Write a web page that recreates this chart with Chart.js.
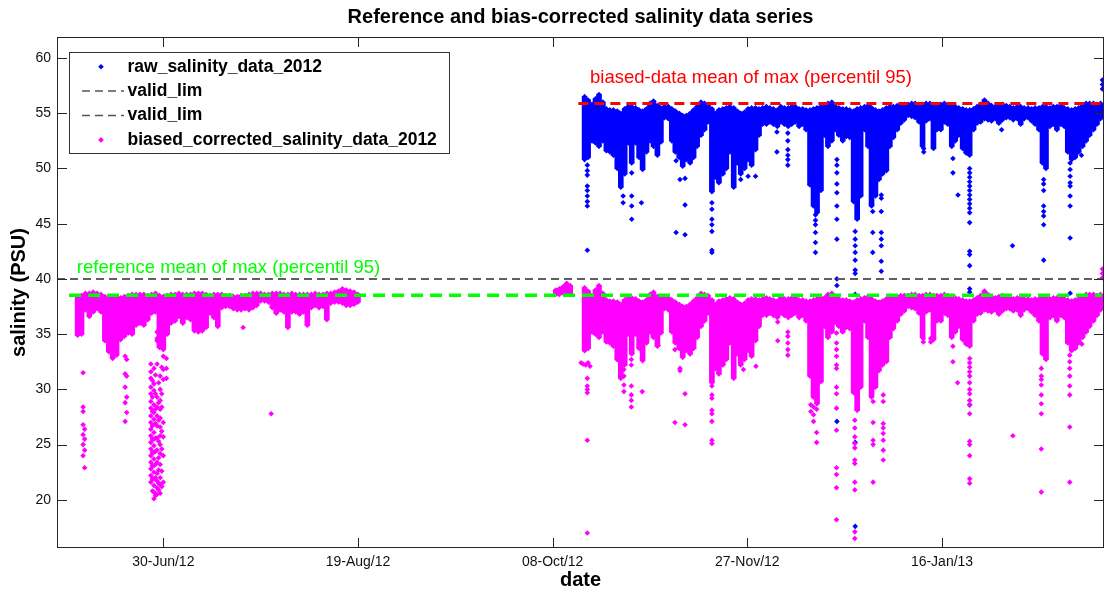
<!DOCTYPE html>
<html>
<head>
<meta charset="utf-8">
<script src="https://cdn.jsdelivr.net/npm/chart.js@4.4.0/dist/chart.umd.min.js"></script>
<style>
  html, body { margin: 0; padding: 0; background: #fff; }
  canvas { display: block; }
</style>
</head>
<body>
<canvas id="grafico" width="1109" height="594"></canvas>
<script>
// x = dias contados a partir de 30-Jun-2012
const xTicks      = [0, 50, 100, 150, 200];
const xTickLabels = ['30-Jun/12', '19-Aug/12', '08-Oct/12', '27-Nov/12', '16-Jan/13'];
const yTicks      = [20, 25, 30, 35, 40, 45, 50, 55, 60];
const xRange      = [-27.3, 241.6];
const yRange      = [15.64, 61.9];

const validLim     = [40, 40];
const refMeanMax   = 38.53;
const refLineDays  = [-24.2, 241];
const biasMeanMax  = 55.89;
const biasLineDays = [106.6, 241.6];
const refLabelAt   = [-22.2, 41.0];
const biasLabelAt  = [109.6, 58.24];

// periodo de referencia (bruto == corrigido): faixa densa por dia
const refDays = [-22, -21, -20, -19, -18, -17, -16, -15, -14, -13,
  -12, -11, -10, -9, -8, -7, -6, -5, -4, -3,
  -2, -1, 0, 1, 2, 3, 4, 5, 6, 7,
  8, 9, 10, 11, 12, 13, 14, 15, 16, 17,
  18, 19, 20, 21, 22, 23, 24, 25, 26, 27,
  28, 29, 30, 31, 32, 33, 34, 35, 36, 37,
  38, 39, 40, 41, 42, 43, 44, 45, 46, 47,
  48, 49, 50, 100.8, 101.7, 102.7, 103.6, 104.5];
const refHi = [38.4, 38.5, 38.7, 38.7, 38.8, 38.7, 38.6, 38.4, 38.3, 38.3,
  38.3, 38.3, 38.4, 38.5, 38.6, 38.6, 38.6, 38.6, 38.5, 38.6,
  38.7, 38.5, 38.4, 38.5, 38.6, 38.6, 38.7, 38.6, 38.6, 38.6,
  38.7, 38.7, 38.7, 38.6, 38.5, 38.6, 38.6, 38.6, 38.5, 38.5,
  38.4, 38.4, 38.5, 38.5, 38.6, 38.7, 38.7, 38.7, 38.6, 38.6,
  38.7, 38.7, 38.7, 38.6, 38.6, 38.7, 38.6, 38.6, 38.6, 38.6,
  38.6, 38.7, 38.6, 38.6, 38.7, 38.7, 38.8, 38.9, 39.1, 39.0,
  38.9, 38.8, 38.6, 39.0, 39.1, 39.3, 39.6, 39.4];
const refLo = [34.9, 35.0, 37.2, 36.6, 37.0, 37.3, 37.0, 34.4, 33.4, 32.8,
  33.1, 34.5, 34.8, 35.1, 35.0, 35.8, 36.0, 35.8, 36.3, 36.9,
  37.0, 33.8, 33.6, 35.0, 36.0, 36.2, 36.6, 36.0, 36.5, 36.3,
  35.3, 35.2, 35.3, 35.6, 36.9, 36.5, 35.7, 37.4, 37.5, 37.5,
  37.3, 37.2, 37.2, 37.3, 37.2, 37.4, 37.6, 38.0, 38.0, 37.9,
  37.4, 36.9, 37.2, 37.0, 35.6, 37.0, 37.0, 36.8, 37.0, 35.8,
  37.4, 37.6, 37.4, 37.5, 36.3, 37.8, 37.9, 37.9, 37.8, 37.6,
  37.6, 37.7, 37.9, 38.6, 38.6, 38.7, 38.8, 38.7];
// pontos soltos do periodo de referencia: [dia, [valores]]
const refOutliers = [
  [-20.6, [31.5, 28.4, 28.0, 26.8, 25.9, 25.0, 24.0]],
  [-20.2, [26.4, 25.5, 24.5, 22.9]],
  [-9.8,  [33.0, 31.4, 30.2, 28.8, 27.1]],
  [-9.4,  [32.7, 31.2, 29.3, 27.9]],
  [-3.2,  [32.3, 31.6, 31.0, 30.2, 29.6, 28.9, 28.3, 27.6, 27.0, 26.4, 25.8, 25.2, 24.6, 24.0, 23.4, 22.8, 22.2, 21.6]],
  [-2.8,  [30.8, 29.3, 28.0, 26.7, 25.5, 24.3, 23.1, 21.9, 20.8]],
  [-2.4,  [31.9, 30.5, 29.9, 28.6, 27.9, 27.3, 26.1, 25.5, 24.9, 24.3, 23.7, 23.1, 22.5, 21.9, 21.3, 20.7, 20.1]],
  [-2.0,  [31.3, 29.6, 28.2, 26.9, 25.6, 24.4, 23.2, 22.0, 20.4]],
  [-1.6,  [35.2, 34.6, 34.4, 32.3, 29.3, 28.4, 27.6, 26.7, 25.6, 24.5, 23.4, 22.4, 21.7, 21.1, 20.5]],
  [-1.2,  [30.6, 28.8, 27.2, 25.3, 23.8, 22.7, 21.5, 20.9]],
  [-0.8,  [35.0, 34.3, 31.2, 30.0, 29.0, 28.2, 27.4, 26.6, 25.8, 25.0, 24.2, 23.2, 22.0, 21.4, 20.6]],
  [-0.4,  [32.0, 29.6, 28.4, 26.2, 24.6, 22.6, 21.2]],
  [0.0,   [33.0, 31.8, 30.9, 27.0, 25.7, 24.0, 21.6]],
  [0.8,   [32.8, 31.9, 31.0]],
  [20.5,  [35.6]],
  [27.7,  [27.8]]
];

// periodo com vies
const biasDays = [108.2, 109.1, 110.1, 111.0, 111.9, 112.9, 113.8, 114.7, 115.6, 116.6,
  117.5, 118.5, 119.4, 120.3, 121.3, 122.2, 123.1, 124.1, 125.0, 125.9,
  126.9, 127.8, 128.7, 129.7, 130.6, 131.5, 132.5, 133.4, 134.3, 135.3,
  136.2, 137.1, 138.1, 139.0, 139.9, 140.9, 141.8, 142.7, 143.7, 144.6,
  145.5, 146.5, 147.4, 148.3, 149.3, 150.2, 151.1, 152.1, 153.0, 153.9,
  154.9, 155.8, 156.7, 157.7, 158.6, 159.5, 160.5, 161.4, 162.3, 163.3,
  164.2, 165.1, 166.1, 167.0, 167.9, 168.9, 169.8, 170.7, 171.7, 172.6,
  173.5, 174.5, 175.4, 176.3, 177.3, 178.2, 179.1, 180.1, 181.0, 181.9,
  182.9, 183.8, 184.7, 185.7, 186.6, 187.5, 188.5, 189.4, 190.3, 191.3,
  192.2, 193.1, 194.1, 195.0, 195.9, 196.9, 197.8, 198.7, 199.7, 200.6,
  201.5, 202.5, 203.4, 204.3, 205.3, 206.2, 207.1, 208.1, 209.0, 209.9,
  210.9, 211.8, 212.7, 213.7, 214.6, 215.5, 216.5, 217.4, 218.3, 219.3,
  220.2, 221.1, 222.1, 223.0, 223.9, 224.9, 225.8, 226.7, 227.7, 228.6,
  229.5, 230.5, 231.4, 232.3, 233.3, 234.2, 235.1, 236.1, 237.0, 237.9,
  238.9, 239.8, 240.7];
const rawHi = [56.5, 56.2, 55.8, 56.3, 56.7, 56.0, 55.4, 55.3, 55.3, 55.2,
  55.0, 55.4, 55.6, 55.6, 55.5, 55.3, 55.2, 55.4, 55.9, 56.1,
  55.7, 55.5, 55.6, 55.6, 55.4, 55.2, 55.0, 54.8, 54.8, 55.0,
  55.3, 55.6, 56.0, 55.9, 55.8, 55.4, 55.0, 55.3, 55.4, 55.5,
  55.6, 55.5, 55.2, 55.0, 55.1, 55.4, 55.5, 55.5, 55.4, 55.5,
  55.6, 55.5, 55.4, 55.3, 55.6, 55.5, 55.5, 55.6, 55.6, 55.4,
  55.4, 55.3, 55.3, 55.4, 55.5, 55.6, 55.6, 55.9, 56.0, 55.6,
  55.5, 55.4, 55.4, 55.3, 55.2, 55.4, 55.5, 55.6, 55.7, 55.5,
  55.3, 55.2, 55.3, 55.5, 55.6, 55.6, 55.7, 55.8, 55.8, 55.8,
  55.9, 55.9, 55.8, 55.8, 55.9, 55.9, 55.8, 55.8, 55.8, 55.9,
  55.8, 55.7, 55.6, 55.5, 55.4, 55.3, 55.3, 55.4, 55.6, 55.8,
  56.2, 55.9, 55.7, 55.6, 55.7, 55.8, 55.7, 55.6, 55.5, 55.6,
  55.6, 55.5, 55.5, 55.4, 55.5, 55.5, 55.6, 55.6, 55.5, 55.6,
  55.6, 55.7, 55.5, 55.4, 55.3, 55.4, 55.5, 55.7, 55.9, 55.9,
  55.9, 55.8, 55.9];
const rawLo = [50.8, 51.0, 52.5, 52.3, 52.0, 52.5, 51.6, 51.5, 51.2, 50.0,
  48.3, 49.5, 52.3, 50.5, 52.3, 51.0, 49.9, 51.5, 52.5, 52.0,
  51.2, 52.4, 54.6, 54.5, 52.5, 51.5, 51.0, 50.2, 50.8, 50.5,
  51.0, 52.0, 53.0, 53.5, 54.2, 47.9, 49.2, 48.7, 49.5, 50.0,
  51.5, 48.3, 50.5, 49.5, 50.0, 50.8, 50.3, 51.7, 53.0, 54.0,
  54.0, 54.2, 54.0, 53.8, 54.2, 54.0, 53.8, 54.0, 54.2, 53.8,
  54.0, 53.5, 48.5, 46.6, 46.0, 48.0, 53.0, 52.0, 52.5, 53.5,
  53.0, 52.5, 52.9, 52.8, 47.0, 45.4, 47.5, 53.5, 52.0, 46.6,
  47.5, 49.0, 49.5, 49.8, 52.0, 52.8, 53.5, 54.1, 54.4, 54.8,
  54.7, 54.6, 54.2, 52.0, 54.3, 54.5, 51.8, 53.5, 53.5, 54.2,
  54.0, 52.0, 52.5, 53.0, 51.8, 51.4, 51.2, 53.5, 54.1, 54.2,
  54.5, 54.4, 54.3, 54.5, 54.1, 54.4, 54.6, 54.6, 54.4, 54.5,
  54.0, 54.5, 54.6, 54.3, 54.0, 53.5, 50.5, 50.0, 53.8, 54.0,
  53.5, 54.0, 53.8, 51.5, 50.8, 51.0, 51.5, 52.0, 52.5, 53.0,
  53.5, 54.0, 54.5];
const corHi = [39.2, 38.9, 38.5, 39.0, 39.4, 38.7, 38.1, 38.0, 38.0, 37.9,
  37.7, 38.1, 38.3, 38.3, 38.2, 38.0, 37.9, 38.1, 38.6, 38.8,
  38.4, 38.2, 38.3, 38.3, 38.1, 37.9, 37.7, 37.5, 37.5, 37.7,
  38.0, 38.3, 38.7, 38.6, 38.5, 38.1, 37.7, 38.0, 38.1, 38.2,
  38.3, 38.2, 37.9, 37.7, 37.8, 38.1, 38.2, 38.2, 38.1, 38.2,
  38.3, 38.2, 38.1, 38.0, 38.3, 38.2, 38.2, 38.3, 38.3, 38.1,
  38.1, 38.0, 38.0, 38.1, 38.2, 38.3, 38.3, 38.6, 38.7, 38.3,
  38.2, 38.1, 38.1, 38.0, 37.9, 38.1, 38.2, 38.3, 38.4, 38.2,
  38.0, 37.9, 38.0, 38.2, 38.3, 38.3, 38.4, 38.5, 38.5, 38.5,
  38.6, 38.6, 38.5, 38.5, 38.6, 38.6, 38.5, 38.5, 38.5, 38.6,
  38.5, 38.4, 38.3, 38.2, 38.1, 38.0, 38.0, 38.1, 38.3, 38.5,
  38.9, 38.6, 38.4, 38.3, 38.4, 38.5, 38.4, 38.3, 38.2, 38.3,
  38.3, 38.2, 38.2, 38.1, 38.2, 38.2, 38.3, 38.3, 38.2, 38.3,
  38.3, 38.4, 38.2, 38.1, 38.0, 38.1, 38.2, 38.4, 38.6, 38.6,
  38.6, 38.5, 38.6];
const corLo = [33.5, 33.7, 35.2, 35.0, 34.7, 35.2, 34.3, 34.2, 33.9, 32.7,
  31.0, 32.2, 35.0, 33.2, 35.0, 33.7, 32.6, 34.2, 35.2, 34.7,
  33.9, 35.1, 37.3, 37.2, 35.2, 34.2, 33.7, 32.9, 33.5, 33.2,
  33.7, 34.7, 35.7, 36.2, 36.9, 30.6, 31.9, 31.4, 32.2, 32.7,
  34.2, 31.0, 33.2, 32.2, 32.7, 33.5, 33.0, 34.4, 35.7, 36.7,
  36.7, 36.9, 36.7, 36.5, 36.9, 36.7, 36.5, 36.7, 36.9, 36.5,
  36.7, 36.2, 31.2, 29.3, 28.7, 30.7, 35.7, 34.7, 35.2, 36.2,
  35.7, 35.2, 35.6, 35.5, 29.7, 28.1, 30.2, 36.2, 34.7, 29.3,
  30.2, 31.7, 32.2, 32.5, 34.7, 35.5, 36.2, 36.8, 37.1, 37.5,
  37.4, 37.3, 36.9, 34.7, 37.0, 37.2, 34.5, 36.2, 36.2, 36.9,
  36.7, 34.7, 35.2, 35.7, 34.5, 34.1, 33.9, 36.2, 36.8, 36.9,
  37.2, 37.1, 37.0, 37.2, 36.8, 37.1, 37.3, 37.3, 37.1, 37.2,
  36.7, 37.2, 37.3, 37.0, 36.7, 36.2, 33.2, 32.7, 36.5, 36.7,
  36.2, 36.7, 36.5, 34.2, 33.5, 33.7, 34.2, 34.7, 35.2, 35.7,
  36.2, 36.7, 37.2];
const rawOutliers = [
  [108.9, [50.3, 49.8, 49.4, 48.4, 48.0, 47.5, 47.0, 46.6, 42.6]],
  [109.0, [34.2]],
  [118.1, [47.5, 46.9]],
  [120.3, [49.6, 47.5, 46.6, 45.4]],
  [122.8, [46.9]],
  [131.7, [50.7, 44.2]],
  [132.7, [49.0]],
  [134.0, [49.1, 46.7, 44.0]],
  [140.9, [46.9, 46.3, 45.4, 44.9, 44.3, 42.6, 42.4]],
  [148.3, [49.0]],
  [150.2, [49.3]],
  [152.1, [49.3]],
  [157.6, [53.3, 51.5]],
  [160.4, [53.2, 52.5, 51.7, 51.2, 50.8, 50.3]],
  [167.5, [45.8, 45.3, 44.9, 44.2, 43.3, 42.4]],
  [173.0, [50.8, 50.3, 49.6, 48.6, 47.8, 46.6, 45.4, 43.6, 40.0, 39.4, 27.1]],
  [177.7, [44.3, 43.6, 43.0, 42.4, 41.7, 40.8, 40.5, 38.6, 34.2, 33.6, 32.5, 32.2, 25.2, 17.6]],
  [182.2, [46.1, 44.2, 42.4]],
  [184.4, [47.6, 47.3, 46.1, 44.2, 43.6, 43.0, 41.6, 40.7]],
  [195.3, [51.8, 51.5]],
  [202.8, [50.9, 49.6]],
  [204.1, [47.6]],
  [207.1, [50.0, 49.6, 49.2, 48.8, 48.4, 48.0, 47.6, 47.2, 46.8, 46.4, 46.0, 45.1, 42.5, 42.2, 41.2, 39.1, 38.8, 28.6]],
  [215.3, [53.5]],
  [218.1, [43.0]],
  [226.1, [49.0, 48.6, 48.0, 46.6, 46.1, 45.7, 44.9, 41.7]],
  [232.9, [50.5, 49.9, 49.3, 48.7, 48.4, 47.5, 46.6, 43.7, 38.7]],
  [235.8, [51.2]],
  [241.2, [57.2, 57.6, 58.0]]
];
const corOutliers = [
  [107.3, [32.4]], [107.8, [32.3]], [108.5, [32.2]], [109.1, [32.4]], [109.6, [32.1]],
  [108.9, [31.0, 30.3, 30.0, 29.7, 25.4, 17.0]],
  [116.6, [34.0, 33.4, 33.0, 32.7]],
  [118.3, [33.0, 32.4, 31.8, 31.2, 30.4, 29.8]],
  [120.2, [35.7, 34.9, 33.6, 32.7, 32.2, 30.3, 29.5, 29.0, 28.4]],
  [123.0, [35.1, 33.4, 32.8, 29.8]],
  [127.1, [34.0]],
  [131.4, [33.6, 27.0]],
  [132.7, [31.9, 31.7]],
  [134.0, [29.6, 26.8]],
  [140.9, [31.2, 30.3, 29.5, 29.2, 28.1, 27.8, 27.1, 25.4, 25.1]],
  [149.0, [31.8]],
  [152.2, [32.1]],
  [157.8, [36.1, 34.4]],
  [160.4, [35.2, 34.8, 34.2, 33.6, 33.1]],
  [166.3, [28.6, 28.0]], [167.0, [28.4, 27.7, 27.1]], [167.8, [28.2, 26.1, 25.2]],
  [172.9, [36.9, 36.0, 35.1, 34.2, 33.6, 33.0, 32.2, 31.9, 30.2, 29.6, 28.3, 26.3, 22.9, 22.3, 21.1, 18.2]],
  [177.6, [27.2, 26.5, 25.7, 25.1, 24.7, 23.6, 23.3, 21.6, 20.9, 17.1, 16.5]],
  [182.3, [28.9, 27.0, 25.4, 25.0, 21.6]],
  [184.9, [29.5, 28.9, 26.9, 26.5, 26.0, 25.4, 24.5, 23.6]],
  [195.2, [34.6, 34.3]], [197.1, [34.6, 34.3]],
  [202.8, [33.9, 32.5]],
  [204.0, [30.6]],
  [207.1, [34.0, 32.8, 32.4, 32.0, 31.6, 31.2, 30.6, 30.0, 29.6, 29.0, 28.6, 27.8, 25.3, 25.0, 24.0, 21.9, 21.5]],
  [218.2, [25.8]],
  [225.5, [31.9, 31.2, 30.9, 30.4, 29.5, 28.7, 27.8, 24.6, 20.7]],
  [232.8, [33.1, 32.5, 31.9, 31.2, 30.3, 29.5, 26.6, 21.6]],
  [235.9, [34.1]],
  [241.2, [40.9, 40.5, 40.1]]
];

const AZUL = '#0000ff', MAGENTA = '#ff00ff', VERDE = '#00ff00', VERMELHO = '#ff0000', CINZA = '#555555';
const FONTE = "'Liberation Sans', Arial, Helvetica, sans-serif";

const faixa = (dias, lo, hi) => dias.map((d, i) => ({ x: d, y: [lo[i], hi[i]] }));
// as bordas da faixa tambem levam o marcador, como na nuvem de pontos original
const bordas = (dias, lo, hi) => dias.flatMap((d, i) => [{ x: d, y: lo[i] }, { x: d, y: hi[i] }]);
const soltos = grupos => grupos.flatMap(([d, vals]) => vals.map(v => ({ x: d, y: v })));
const reta = (dias, y) => dias.map(d => ({ x: d, y }));

function barra(label, data, cor, order) {
    return { type: 'bar', label, data, backgroundColor: cor, borderWidth: 0,
             barThickness: 5, grouped: false, order };
}
function pontos(label, data, cor, order) {
    return { type: 'scatter', label, data, backgroundColor: cor, borderColor: cor, borderWidth: 0,
             pointStyle: 'rectRot', pointRadius: 2.8, pointHoverRadius: 2.8, order };
}
function linha(label, data, cor, largura, dash) {
    return { type: 'line', label, data, borderColor: cor, borderWidth: largura, borderDash: dash,
             pointRadius: 0, fill: false, tension: 0, order: 0 };
}

const molduraPlugin = {
    id: 'moldura',
    afterDatasetsDraw(chart) {
        const { ctx, chartArea: a, scales: { x, y } } = chart;
        ctx.save();
        ctx.strokeStyle = '#262626';
        ctx.lineWidth = 1;
        ctx.strokeRect(a.left + 0.5, a.top + 0.5, a.right - a.left - 1, a.bottom - a.top - 1);
        ctx.beginPath();
        xTicks.forEach(v => {
            const px = Math.round(x.getPixelForValue(v)) + 0.5;
            ctx.moveTo(px, a.bottom); ctx.lineTo(px, a.bottom - 10);
            ctx.moveTo(px, a.top);    ctx.lineTo(px, a.top + 10);
        });
        yTicks.forEach(v => {
            const py = Math.round(y.getPixelForValue(v)) + 0.5;
            ctx.moveTo(a.left, py);  ctx.lineTo(a.left + 10, py);
            ctx.moveTo(a.right, py); ctx.lineTo(a.right - 10, py);
        });
        ctx.stroke();
        ctx.restore();
    },
    afterDraw(chart) {
        const { ctx, chartArea: a, scales: { x, y } } = chart;
        ctx.save();
        ctx.fillStyle = '#000';
        ctx.textAlign = 'center';
        ctx.textBaseline = 'middle';
        ctx.font = `bold 20px ${FONTE}`;
        ctx.fillText('Reference and bias-corrected salinity data series', (a.left + a.right) / 2, 17);
        ctx.fillText('date', (a.left + a.right) / 2, 580);
        ctx.save();
        ctx.translate(19, (a.top + a.bottom) / 2);
        ctx.rotate(-Math.PI / 2);
        ctx.fillText('salinity (PSU)', 0, 0);
        ctx.restore();

        // rotulos das medias
        ctx.textAlign = 'left';
        ctx.font = `18.5px ${FONTE}`;
        ctx.fillStyle = VERDE;
        ctx.fillText('reference mean of max (percentil 95)', x.getPixelForValue(refLabelAt[0]), y.getPixelForValue(refLabelAt[1]));
        ctx.fillStyle = VERMELHO;
        ctx.fillText('biased-data mean of max (percentil 95)', x.getPixelForValue(biasLabelAt[0]), y.getPixelForValue(biasLabelAt[1]));

        // legenda
        const bx = a.left + 12, by = a.top + 15, bw = 380, bh = 101;
        ctx.fillStyle = '#fff';
        ctx.fillRect(bx, by, bw, bh);
        ctx.strokeStyle = '#333';
        ctx.lineWidth = 1;
        ctx.strokeRect(bx + 0.5, by + 0.5, bw, bh);
        const itens = [
            { txt: 'raw_salinity_data_2012', tipo: 'p', cor: AZUL },
            { txt: 'valid_lim', tipo: 'l', cor: CINZA },
            { txt: 'valid_lim', tipo: 'l', cor: CINZA },
            { txt: 'biased_corrected_salinity_data_2012', tipo: 'p', cor: MAGENTA }
        ];
        ctx.font = `bold 17.5px ${FONTE}`;
        itens.forEach((it, i) => {
            const ly = by + 14.7 + i * 24.4;
            if (it.tipo === 'p') {
                ctx.fillStyle = it.cor;
                ctx.beginPath();
                ctx.moveTo(bx + 32, ly - 2.8); ctx.lineTo(bx + 34.8, ly);
                ctx.lineTo(bx + 32, ly + 2.8); ctx.lineTo(bx + 29.2, ly);
                ctx.closePath(); ctx.fill();
            } else {
                ctx.strokeStyle = it.cor;
                ctx.lineWidth = 1.5;
                ctx.setLineDash([8, 5]);
                ctx.beginPath(); ctx.moveTo(bx + 13, ly); ctx.lineTo(bx + 55, ly); ctx.stroke();
                ctx.setLineDash([]);
            }
            ctx.fillStyle = '#000';
            ctx.fillText(it.txt, bx + 58.5, ly);
        });
        ctx.restore();
    }
};

const eixoFonte = { family: FONTE, size: 14 };

new Chart(document.getElementById('grafico'), {
    type: 'scatter',
    data: {
        datasets: [
            barra('raw_salinity_data_2012', faixa(biasDays, rawLo, rawHi), AZUL, 7),
            pontos('raw_salinity_data_2012', bordas(biasDays, rawLo, rawHi).concat(soltos(rawOutliers)), AZUL, 6),
            barra('biased_corrected_salinity_data_2012', faixa(refDays, refLo, refHi), MAGENTA, 4),
            barra('biased_corrected_salinity_data_2012', faixa(biasDays, corLo, corHi), MAGENTA, 3),
            pontos('biased_corrected_salinity_data_2012',
                   bordas(refDays, refLo, refHi).concat(bordas(biasDays, corLo, corHi),
                                                        soltos(refOutliers), soltos(corOutliers)), MAGENTA, 2),
            linha('valid_lim', reta(xRange, validLim[0]), CINZA, 1.5, [8, 5]),
            linha('valid_lim', reta(xRange, validLim[1]), CINZA, 1.5, [8, 5]),
            linha('reference mean', reta(refLineDays, refMeanMax), VERDE, 3.5, [12, 7]),
            linha('biased mean', reta(biasLineDays, biasMeanMax), VERMELHO, 3, [10, 6])
        ]
    },
    options: {
        responsive: false,
        animation: false,
        devicePixelRatio: 1,
        layout: { padding: { left: 0, top: 37, right: 5, bottom: 0 } },
        plugins: { legend: { display: false }, tooltip: { enabled: false }, title: { display: false } },
        scales: {
            x: {
                type: 'linear', min: xRange[0], max: xRange[1], offset: false,
                grid: { display: false, drawTicks: false, offset: false }, border: { display: false },
                afterBuildTicks: s => { s.ticks = xTicks.map(v => ({ value: v })); },
                afterFit: s => { s.height = 46; },
                ticks: { autoSkip: false, maxRotation: 0, padding: 6, color: '#111', font: eixoFonte,
                         callback: v => xTickLabels[xTicks.indexOf(v)] ?? '' }
            },
            y: {
                type: 'linear', min: yRange[0], max: yRange[1],
                grid: { display: false, drawTicks: false }, border: { display: false },
                afterBuildTicks: s => { s.ticks = yTicks.map(v => ({ value: v })); },
                afterFit: s => { s.width = 57; },
                ticks: { autoSkip: false, padding: 6, color: '#111', font: eixoFonte }
            }
        }
    },
    plugins: [molduraPlugin]
});
</script>
</body>
</html>
